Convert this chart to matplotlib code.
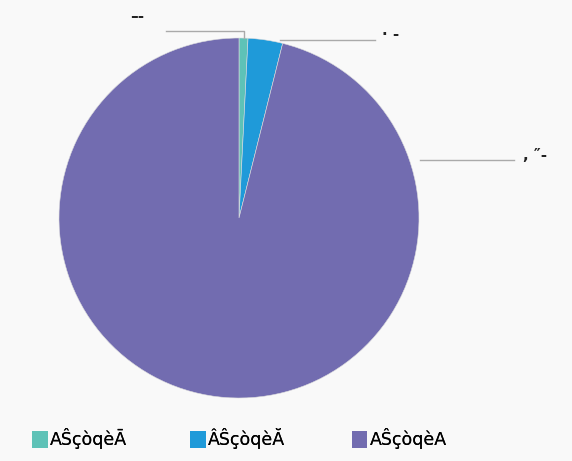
import numpy as np
import matplotlib
matplotlib.use("Agg")
import matplotlib.pyplot as plt
from matplotlib.patches import Patch

# Slice data
labels = ["AŜçòqèĀ", "ÂŜçòqèĂ", "AŜçòqèA"]
values = [0.8, 3.1, 96.1]
value_texts = ["–-", "· -", ", ″-"]
colors = ["#5ec2b7", "#1f9ad9", "#726cb0"]

bg = "#f9f9f9"
fig = plt.figure(figsize=(5.72, 4.61), dpi=100, facecolor=bg)
ax = fig.add_axes([59 / 572, 63 / 461, 360 / 572, 360 / 461])
ax.set_facecolor(bg)

wedges, _ = ax.pie(values, colors=colors, startangle=90, counterclock=False,
                   radius=1.0, wedgeprops=dict(linewidth=0.4, edgecolor="#dddddd"))
ax.set_xlim(-1, 1)
ax.set_ylim(-1, 1)
ax.set_aspect("equal")
ax.axis("off")

line_kw = dict(color="#aaaaaa", lw=1, clip_on=False)
text_kw = dict(fontsize=11, color="#222222", clip_on=False, fontweight="bold")

# leader lines from wedge mid angles
mids = [np.deg2rad((w.theta1 + w.theta2) / 2) for w in wedges]

# teal: up then left
x0, y0 = np.cos(mids[0]), np.sin(mids[0])
ax.plot([x0, x0, x0 - 0.43], [y0, y0 + 0.04, y0 + 0.04], **line_kw)
ax.text(x0 - 0.63, y0 + 0.08, value_texts[0], ha="left", va="bottom", **text_kw)

# blue: horizontal to the right
x1, y1 = np.cos(mids[1]), np.sin(mids[1])
ax.plot([x1 + 0.08, x1 + 0.61], [y1, y1], **line_kw)
ax.text(x1 + 0.65, y1 + 0.03, value_texts[1], ha="left", va="center", **text_kw)

# purple: horizontal to the right
y2 = 0.32
ax.plot([1.005, 1.53], [y2, y2], **line_kw)
ax.text(1.58, y2 + 0.03, value_texts[2], ha="left", va="center", **text_kw)

# legend entries, spread along the bottom
legend_x = [0.056, 0.332, 0.615]
for c, lab, lx in zip(colors, labels, legend_x):
    leg = fig.legend([Patch(facecolor=c, edgecolor="none")], [lab],
                     loc="center left", bbox_to_anchor=(lx, 0.048),
                     frameon=False, fontsize=12.5, handlelength=0.9,
                     handleheight=1.1, handletextpad=0.15, borderaxespad=0,
                     borderpad=0)
    fig.add_artist(leg)

plt.savefig("out.png", dpi=100, facecolor=bg)
